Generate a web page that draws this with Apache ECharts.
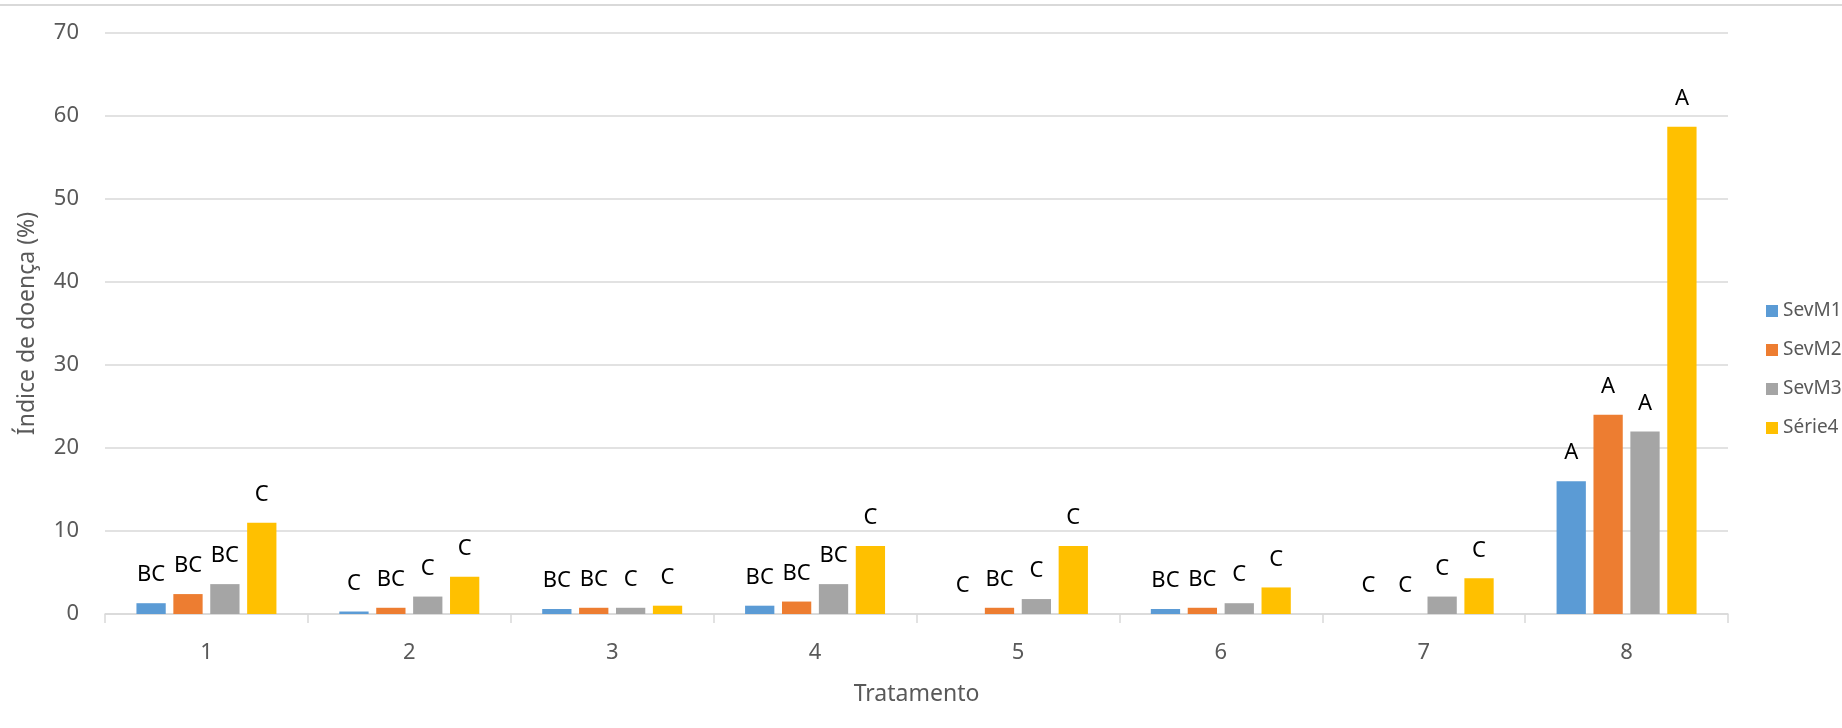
<!DOCTYPE html>
<html>
<head>
<meta charset="utf-8">
<script src="https://cdn.jsdelivr.net/npm/echarts@6/dist/echarts.min.js"></script>
<style>
html,body{margin:0;padding:0;background:#fff;}
#chart{width:1842px;height:728px;}
</style>
</head>
<body>
<div id="chart"></div>
<script>
// ---- data ----
var categories = ['1', '2', '3', '4', '5', '6', '7', '8'];
var seriesNames = ['SevM1', 'SevM2', 'SevM3', 'Série4'];
var sevM1 = [1.3, 0.3, 0.6, 1.0, 0, 0.6, 0, 16];
var sevM2 = [2.4, 0.75, 0.75, 1.5, 0.75, 0.75, 0, 24];
var sevM3 = [3.6, 2.1, 0.75, 3.6, 1.8, 1.3, 2.1, 22];
var serie4 = [11, 4.5, 1.0, 8.2, 8.2, 3.2, 4.3, 58.7];
var lettersM1 = ['BC', 'C', 'BC', 'BC', 'C', 'BC', 'C', 'A'];
var lettersM2 = ['BC', 'BC', 'BC', 'BC', 'BC', 'BC', 'C', 'A'];
var lettersM3 = ['BC', 'C', 'C', 'BC', 'C', 'C', 'C', 'A'];
var letters4 = ['C', 'C', 'C', 'C', 'C', 'C', 'C', 'A'];
var yTicks = [0, 10, 20, 30, 40, 50, 60, 70];

var values = [sevM1, sevM2, sevM3, serie4];
var letters = [lettersM1, lettersM2, lettersM3, letters4];
var colors = ['#5B9BD5', '#ED7D31', '#A5A5A5', '#FFC000'];
var FONT = '"Noto Sans", "Open Sans", sans-serif';

var chart = echarts.init(document.getElementById('chart'), null, {renderer: 'canvas'});

var series = seriesNames.map(function (name, i) {
  return {
    name: name,
    type: 'bar',
    data: values[i],
    itemStyle: {color: colors[i]},
    barGap: '26%',
    barCategoryGap: '31%',
    label: {
      show: true,
      position: 'top',
      distance: 16,
      color: '#000',
      fontFamily: FONT,
      fontSize: 22,
      lineHeight: 24,
      formatter: function (p) { return letters[i][p.dataIndex]; }
    },
    emphasis: {disabled: true}
  };
});

// one legend block per series, stacked vertically at the right
var legendTop0 = 301, legendStep = 39;
var legends = seriesNames.map(function (name, i) {
  return {
    orient: 'vertical',
    left: 1766,
    top: legendTop0 + i * legendStep,
    padding: 0,
    itemWidth: 12,
    itemHeight: 12,
    icon: 'rect',
    selectedMode: false,
    textStyle: {color: '#595959', fontSize: 19, lineHeight: 20, fontFamily: FONT},
    data: [name]
  };
});

chart.setOption({
  animation: false,
  backgroundColor: '#fff',
  textStyle: {fontFamily: FONT},
  graphic: [{
    type: 'line',
    shape: {x1: 0, y1: 5, x2: 1842, y2: 5},
    style: {stroke: '#d9d9d9', lineWidth: 2}
  }],
  legend: legends,
  grid: {left: 105, right: 114, top: 33, bottom: 114, containLabel: false},
  xAxis: {
    type: 'category',
    data: categories,
    name: 'Tratamento',
    nameLocation: 'middle',
    nameGap: 69,
    nameTextStyle: {color: '#595959', fontSize: 23, fontFamily: FONT},
    axisLine: {show: true, lineStyle: {color: '#d9d9d9', width: 1.5}},
    axisTick: {show: true, length: 9, lineStyle: {color: '#d9d9d9', width: 1.5}},
    axisLabel: {color: '#595959', fontSize: 22, margin: 28, fontFamily: FONT},
    splitLine: {show: false}
  },
  yAxis: {
    type: 'value',
    min: 0,
    max: 70,
    interval: 10,
    name: 'Índice de doença (%)',
    nameLocation: 'middle',
    nameGap: 66,
    nameRotate: 90,
    nameTextStyle: {color: '#595959', fontSize: 23, fontFamily: FONT},
    axisLine: {show: false},
    axisTick: {show: false},
    axisLabel: {
      color: '#595959', fontSize: 22, margin: 26, fontFamily: FONT,
      formatter: function (v) { return yTicks.indexOf(v) >= 0 ? String(v) : ''; }
    },
    splitLine: {lineStyle: {color: '#d9d9d9', width: 1.5}}
  },
  series: series
});
</script>
</body>
</html>
